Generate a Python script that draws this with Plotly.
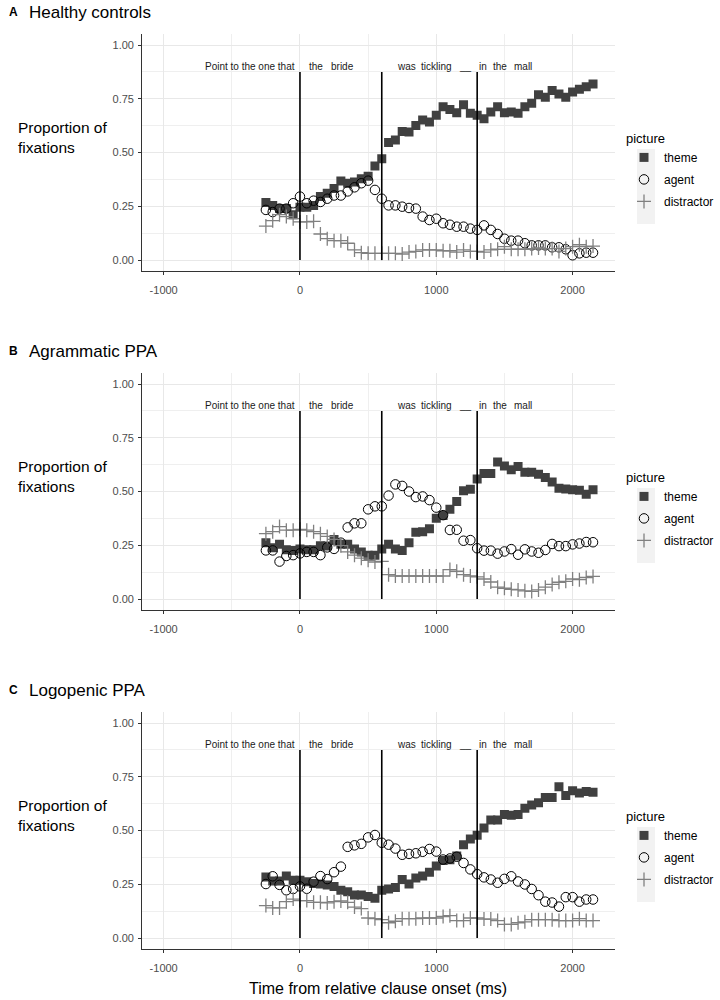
import plotly.graph_objects as go

# ---------------- data ----------------
time_ms = list(range(-250, 2151, 50))  # 49 time bins

series_names = ["theme", "agent", "distractor"]
panel_titles = ["Healthy controls", "Agrammatic PPA", "Logopenic PPA"]
panel_letters = ["A", "B", "C"]

hc_theme = [0.267, 0.254, 0.239, 0.239, 0.211, 0.245, 0.245, 0.254, 0.295, 0.310,
            0.332, 0.367, 0.357, 0.363, 0.378, 0.390, 0.437, 0.471, 0.546, 0.558,
            0.598, 0.595, 0.626, 0.651, 0.642, 0.673, 0.713, 0.700, 0.685, 0.722,
            0.682, 0.673, 0.657, 0.688, 0.713, 0.685, 0.688, 0.682, 0.713, 0.729,
            0.769, 0.757, 0.788, 0.772, 0.757, 0.781, 0.794, 0.806, 0.819]
hc_agent = [0.233, 0.223, 0.239, 0.239, 0.264, 0.295, 0.264, 0.276, 0.270, 0.285,
            0.300, 0.300, 0.319, 0.338, 0.357, 0.369, 0.326, 0.285, 0.254, 0.254,
            0.248, 0.242, 0.239, 0.202, 0.186, 0.192, 0.171, 0.164, 0.155, 0.155,
            0.146, 0.140, 0.161, 0.140, 0.121, 0.099, 0.090, 0.090, 0.078, 0.068,
            0.068, 0.068, 0.059, 0.059, 0.050, 0.022, 0.031, 0.034, 0.034]
hc_distractor = [0.158, 0.183, 0.211, 0.202, 0.192, 0.177, 0.177, 0.180, 0.121, 0.099,
                 0.090, 0.090, 0.078, 0.047, 0.034, 0.031, 0.031, 0.031, 0.031, 0.031,
                 0.028, 0.037, 0.040, 0.047, 0.047, 0.047, 0.043, 0.043, 0.037, 0.047,
                 0.040, 0.040, 0.037, 0.047, 0.050, 0.062, 0.050, 0.050, 0.050, 0.053,
                 0.056, 0.053, 0.053, 0.040, 0.053, 0.062, 0.071, 0.062, 0.065]

ag_theme = [0.262, 0.238, 0.255, 0.229, 0.226, 0.233, 0.229, 0.229, 0.248, 0.246,
            0.277, 0.255, 0.255, 0.233, 0.219, 0.204, 0.204, 0.233, 0.255, 0.233,
            0.226, 0.262, 0.310, 0.313, 0.327, 0.376, 0.388, 0.417, 0.454, 0.503,
            0.510, 0.558, 0.584, 0.584, 0.637, 0.619, 0.601, 0.616, 0.590, 0.590,
            0.580, 0.565, 0.544, 0.515, 0.512, 0.508, 0.506, 0.487, 0.508]
ag_agent = [0.226, 0.226, 0.174, 0.200, 0.204, 0.212, 0.219, 0.219, 0.204, 0.240,
            0.233, 0.262, 0.333, 0.352, 0.352, 0.417, 0.431, 0.431, 0.481, 0.533,
            0.526, 0.500, 0.474, 0.477, 0.460, 0.425, 0.390, 0.321, 0.322, 0.271,
            0.274, 0.236, 0.225, 0.225, 0.211, 0.221, 0.232, 0.206, 0.231, 0.221,
            0.215, 0.228, 0.256, 0.246, 0.246, 0.254, 0.258, 0.265, 0.264]
ag_distractor = [0.304, 0.313, 0.337, 0.320, 0.320, 0.324, 0.320, 0.313, 0.304, 0.291,
                 0.277, 0.248, 0.219, 0.204, 0.190, 0.180, 0.172, 0.175, 0.113, 0.107,
                 0.107, 0.107, 0.107, 0.107, 0.107, 0.107, 0.107, 0.137, 0.129, 0.113,
                 0.107, 0.103, 0.093, 0.079, 0.055, 0.050, 0.045, 0.042, 0.038, 0.035,
                 0.042, 0.055, 0.068, 0.078, 0.082, 0.093, 0.090, 0.100, 0.105]

lg_theme = [0.284, 0.265, 0.265, 0.288, 0.269, 0.269, 0.262, 0.254, 0.251, 0.247,
            0.240, 0.222, 0.215, 0.200, 0.200, 0.193, 0.185, 0.222, 0.228, 0.235,
            0.272, 0.251, 0.279, 0.288, 0.306, 0.335, 0.360, 0.364, 0.381, 0.434,
            0.460, 0.478, 0.512, 0.549, 0.549, 0.574, 0.571, 0.574, 0.604, 0.619,
            0.629, 0.654, 0.654, 0.703, 0.663, 0.685, 0.674, 0.681, 0.678]
lg_agent = [0.251, 0.287, 0.247, 0.222, 0.228, 0.240, 0.229, 0.262, 0.288, 0.274,
            0.306, 0.332, 0.424, 0.431, 0.438, 0.468, 0.479, 0.443, 0.434, 0.416,
            0.387, 0.391, 0.394, 0.401, 0.414, 0.402, 0.365, 0.370, 0.378, 0.349,
            0.319, 0.297, 0.282, 0.272, 0.257, 0.275, 0.287, 0.263, 0.249, 0.228,
            0.199, 0.169, 0.165, 0.146, 0.190, 0.190, 0.169, 0.179, 0.179]
lg_distractor = [0.151, 0.140, 0.140, 0.169, 0.181, 0.174, 0.174, 0.166, 0.166, 0.163,
                 0.169, 0.172, 0.166, 0.144, 0.137, 0.093, 0.090, 0.085, 0.071, 0.078,
                 0.090, 0.090, 0.090, 0.093, 0.093, 0.093, 0.100, 0.104, 0.081, 0.081,
                 0.093, 0.093, 0.088, 0.088, 0.081, 0.063, 0.063, 0.071, 0.075, 0.085,
                 0.085, 0.085, 0.085, 0.081, 0.081, 0.081, 0.090, 0.081, 0.081]

panels = [
    [hc_theme, hc_agent, hc_distractor],
    [ag_theme, ag_agent, ag_distractor],
    [lg_theme, lg_agent, lg_distractor],
]

onset_lines = [0, 600, 1300]
line_top = 0.875
sentence_words = ["Point to the one that", "the", "bride", "was", "tickling", "__", "in", "the", "mall"]
word_x = [-25, 114, 312, 781, 1005, 1214, 1345, 1467, 1636]
word_y = 0.9

x_ticks = [-1000, 0, 1000, 2000]
y_ticks = [0, 0.25, 0.5, 0.75, 1.0]
y_tick_text = ["0.00", "0.25", "0.50", "0.75", "1.00"]

# ---------------- layout helpers ----------------
W, H = 720, 1000
FONT = "Liberation Sans, Arial, sans-serif"
# pixel positions of y=1.00 and y=0.00 for each panel
y1_px = [45, 384, 723]
y0_px = [260, 599, 938]
x_left_px, x_right_px = 142.2, 614.5
x_range = [-1157.5, 2307.5]

styles = {
    "theme": dict(symbol="square", size=9, color="#404040", line=dict(width=0)),
    "agent": dict(symbol="circle-open", size=9.5, color="#000000", line=dict(width=1, color="#000000")),
    "distractor": dict(symbol="cross-thin", size=10, color="#808080", line=dict(width=1.3, color="#808080")),
}

fig = go.Figure()
annotations = []
shapes = []

for p in range(3):
    ax = "" if p == 0 else str(p + 1)
    xa, ya = "x" + ax, "y" + ax
    lg = "legend" if p == 0 else "legend" + str(p + 1)
    unit = (y0_px[p] - y1_px[p])
    top_px = y1_px[p] - 0.05 * unit
    bot_px = y0_px[p] + 0.05 * unit
    dom = [1 - bot_px / H, 1 - top_px / H]

    for name, vals in zip(series_names, panels[p]):
        fig.add_trace(go.Scatter(
            x=time_ms, y=vals, mode="markers", name=name,
            marker=styles[name], xaxis=xa, yaxis=ya, legend=lg,
            legendgroup=name + str(p), showlegend=True,
        ))

    # onset lines
    lx, ly = [], []
    for v in onset_lines:
        lx += [v, v, None]
        ly += [0, line_top, None]
    fig.add_trace(go.Scatter(x=lx, y=ly, mode="lines", line=dict(color="#000000", width=1.6),
                             xaxis=xa, yaxis=ya, showlegend=False, hoverinfo="skip"))

    for i, (wd, wx) in enumerate(zip(sentence_words, word_x)):
        annotations.append(dict(x=wx, y=word_y, xref=xa, yref=ya, text=wd, showarrow=False,
                                xanchor="right" if i == 0 else "center", yanchor="middle",
                                font=dict(family=FONT, size=10, color="#1a1a1a")))

    # panel titles
    ty = 1 - (y1_px[p] - 33) / H
    annotations.append(dict(x=7 / W, y=ty, xref="paper", yref="paper", text="<b>" + panel_letters[p] + "</b>",
                            showarrow=False, xanchor="left", yanchor="middle",
                            font=dict(family=FONT, size=12, color="#000000")))
    annotations.append(dict(x=27 / W, y=ty, xref="paper", yref="paper", text=panel_titles[p],
                            showarrow=False, xanchor="left", yanchor="middle",
                            font=dict(family=FONT, size=17, color="#000000")))
    # y-axis title (horizontal)
    annotations.append(dict(x=16 / W, y=1 - (y1_px[p] + 0.43 * unit) / H, xref="paper", yref="paper",
                            text="Proportion of<br>fixations", showarrow=False, xanchor="left",
                            yanchor="middle", align="left",
                            font=dict(family=FONT, size=15.5, color="#000000")))

    xaxis = dict(domain=[x_left_px / W, x_right_px / W], range=x_range, anchor=ya,
                 tickmode="array", tickvals=x_ticks, ticktext=[str(t) for t in x_ticks],
                 showgrid=True, gridcolor="#E8E8E8", gridwidth=1.2, zeroline=False,
                 showline=True, linecolor="#333333", linewidth=1,
                 ticks="outside", ticklen=3, tickcolor="#333333", ticklabelstandoff=6,
                 tickfont=dict(family=FONT, size=11, color="#4D4D4D"),
                 minor=dict(dtick=500, tick0=-1000, showgrid=True, gridcolor="#EFEFEF", gridwidth=0.8, ticks=""))
    yaxis = dict(domain=dom, range=[-0.05, 1.05], anchor=xa,
                 tickmode="array", tickvals=y_ticks, ticktext=y_tick_text,
                 showgrid=True, gridcolor="#E8E8E8", gridwidth=1.2, zeroline=False,
                 showline=True, linecolor="#333333", linewidth=1,
                 ticks="outside", ticklen=3, tickcolor="#333333", ticklabelstandoff=2,
                 tickfont=dict(family=FONT, size=11, color="#4D4D4D"),
                 minor=dict(dtick=0.125, tick0=0, showgrid=True, gridcolor="#EFEFEF", gridwidth=0.8, ticks=""))
    fig.layout["xaxis" + ax] = xaxis
    fig.layout["yaxis" + ax] = yaxis

    # legend, placed relative to the panel
    leg_top = y1_px[p] + 81
    fig.layout[lg] = dict(
        x=624 / W, y=1 - leg_top / H, xanchor="left", yanchor="top",
        title=dict(text="picture", font=dict(family=FONT, size=13, color="#000000")),
        font=dict(family=FONT, size=12, color="#000000"),
        bgcolor="rgba(0,0,0,0)", tracegroupgap=3, itemsizing="trace",
    )
    # grey key background (ggplot legend.key)
    shapes.append(dict(type="rect", xref="paper", yref="paper",
                       x0=637 / W, x1=655 / W,
                       y0=1 - (leg_top + 98) / H, y1=1 - (leg_top + 23) / H,
                       fillcolor="#F2F2F2", line=dict(width=0), layer="below"))

annotations.append(dict(x=(x_left_px + x_right_px) / 2 / W, y=1 - 988 / H, xref="paper", yref="paper",
                        text="Time from relative clause onset (ms)", showarrow=False,
                        xanchor="center", yanchor="middle",
                        font=dict(family=FONT, size=16, color="#000000")))

fig.update_layout(width=W, height=H, margin=dict(l=0, r=0, t=0, b=0),
                  paper_bgcolor="white", plot_bgcolor="white",
                  annotations=annotations, shapes=shapes,
                  font=dict(family=FONT))

fig.write_html("out.html", config={"displayModeBar": False},
               post_script="document.body.style.margin='0';document.body.style.overflow='hidden';")
